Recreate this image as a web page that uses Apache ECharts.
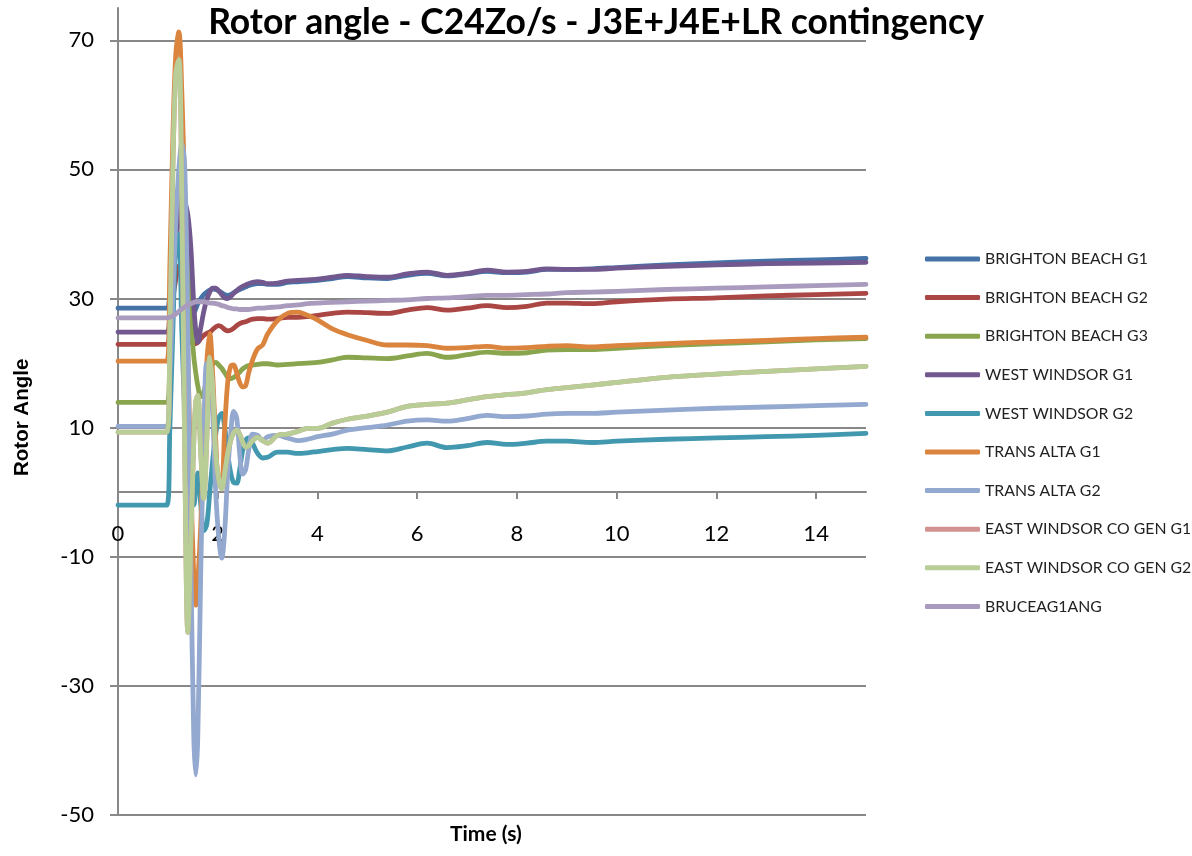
<!DOCTYPE html>
<html>
<head>
<meta charset="utf-8">
<title>Rotor angle</title>
<script src="https://cdn.jsdelivr.net/npm/echarts@6/dist/echarts.min.js"></script>
<style>
  html, body { margin: 0; padding: 0; background: #fff; }
  #chart { width: 1192px; height: 856px; }
</style>
</head>
<body>
<div id="chart"></div>
<script>
// time stamps (s), shared by every series
const time = [0, 0.98, 1.04, 1.1, 1.16, 1.22, 1.28, 1.34, 1.4, 1.46,
  1.52, 1.56, 1.6, 1.66, 1.72, 1.78, 1.84, 1.9, 1.96, 2.02,
  2.08, 2.14, 2.2, 2.26, 2.32, 2.38, 2.44, 2.5, 2.56, 2.62,
  2.7, 2.8, 2.9, 3.0, 3.2, 3.4, 3.6, 3.8, 4.0, 4.3,
  4.6, 5.0, 5.4, 5.8, 6.2, 6.6, 7.0, 7.4, 7.8, 8.2,
  8.6, 9.0, 9.5, 10, 11, 12, 13, 14, 15];

const brightonG1 = [28.5, 28.5, 31, 34, 37, 38, 36, 32, 28.5, 27.5,
  27.8, 28.4, 29.2, 30.0, 30.6, 31.0, 31.3, 31.5, 31.4, 31.2,
  30.9, 30.6, 30.5, 30.6, 30.9, 31.2, 31.4, 31.6, 31.8, 32.0,
  32.2, 32.3, 32.3, 32.2, 32.2, 32.5, 32.6, 32.7, 32.8, 33.1,
  33.4, 33.2, 33.1, 33.6, 33.9, 33.5, 33.8, 34.2, 34.0, 34.1,
  34.5, 34.5, 34.6, 34.8, 35.2, 35.5, 35.8, 36.0, 36.2];

const brightonG2 = [22.9, 22.9, 26, 30, 33, 35, 34, 30, 26, 23.5,
  23.0, 23.0, 23.2, 23.8, 24.3, 24.6, 24.8, 25.2, 25.6, 25.8,
  25.6, 25.2, 25.0, 25.1, 25.4, 25.8, 26.1, 26.3, 26.4, 26.6,
  26.8, 26.9, 26.9, 26.8, 26.9, 27.1, 27.1, 27.2, 27.4, 27.7,
  27.9, 27.8, 27.7, 28.2, 28.6, 28.2, 28.5, 28.9, 28.6, 28.8,
  29.3, 29.3, 29.2, 29.5, 29.9, 30.1, 30.4, 30.6, 30.8];

const brightonG3 = [13.9, 13.9, 20, 30, 40, 45, 45, 42, 35, 27,
  21, 18.5, 16.5, 14.8, 15.5, 17.5, 19.2, 19.9, 20.1, 19.7,
  19.2, 18.5, 17.8, 17.6, 17.8, 18.1, 18.6, 19.1, 19.4, 19.6,
  19.7, 19.8, 19.9, 19.9, 19.7, 19.8, 19.9, 20.0, 20.1, 20.5,
  20.9, 20.8, 20.7, 21.1, 21.5, 20.9, 21.3, 21.7, 21.5, 21.6,
  22.0, 22.1, 22.1, 22.3, 22.7, 23.0, 23.3, 23.6, 23.8];

const westWindsorG1 = [24.8, 24.8, 28, 33, 38, 43, 46, 45, 43, 38,
  29, 25, 23.2, 25.5, 28, 29.8, 31, 31.6, 31.6, 31.2,
  30.6, 30.1, 30.0, 30.3, 30.8, 31.2, 31.6, 31.9, 32.1, 32.3,
  32.5, 32.6, 32.5, 32.3, 32.4, 32.7, 32.8, 32.9, 33.0, 33.3,
  33.6, 33.4, 33.3, 33.8, 34.1, 33.6, 33.9, 34.4, 34.1, 34.2,
  34.6, 34.5, 34.5, 34.7, 35.0, 35.2, 35.4, 35.5, 35.6];

const westWindsorG2 = [-2.0, -2.0, 10, 25, 38, 40, 25, 12, 4, 0,
  -2, 1, 3, -2, -6, -5, 0, 5, 9, 11.5,
  12.2, 10, 6, 3, 1.5, 1.4, 3.5, 6.5, 8.0, 8.4,
  7.5, 6, 5.3, 5.4, 6.2, 6.2, 6.0, 6.1, 6.3, 6.6,
  6.8, 6.6, 6.4, 7.0, 7.6, 6.9, 7.2, 7.7, 7.4, 7.6,
  7.9, 7.9, 7.7, 7.9, 8.2, 8.4, 8.6, 8.8, 9.1];

const transAltaG1 = [20.3, 20.3, 35, 55, 68, 71.3, 62, 45, 22, 2,
  -13, -17.5, -14, -5, 8, 20, 24.6, 18, 8, 2,
  2, 10, 17, 19.5, 19.7, 18.5, 17, 16.3, 16.5, 18.5,
  20.5, 22.2, 22.8, 24.5, 26.6, 27.7, 27.9, 27.4, 26.7, 25.3,
  24.4, 23.5, 22.8, 22.8, 22.7, 22.3, 22.4, 22.6, 22.3, 22.4,
  22.6, 22.7, 22.5, 22.7, 23.0, 23.3, 23.5, 23.8, 24.0];

const transAltaG2 = [10.2, 10.2, 18, 30, 42, 50, 54, 50, 25, -10,
  -38, -43.8, -38, -12, 8, 20, 19, 12, 0, -7,
  -10.2, -6, 3, 9, 12.5, 11.5, 6, 2.8, 3.5, 6.5,
  9.0, 8.8, 8.0, 8.6, 8.8, 8.4, 8.0, 8.2, 8.6, 9.0,
  9.6, 10.0, 10.4, 11.0, 11.2, 11.0, 11.4, 11.9, 11.7, 11.8,
  12.1, 12.2, 12.2, 12.4, 12.7, 13.0, 13.2, 13.4, 13.6];

const eastWindsorG2 = [9.3, 9.3, 25, 50, 65, 67, 45, 5, -21.7, -8,
  8, 14, 15, 6, -1, 8, 20.9, 16, 6, 2,
  0.5, 3, 6, 8, 9.2, 9.6, 9, 7.8, 7.0, 7.2,
  8.0, 8.5, 8.0, 7.6, 8.8, 9.0, 9.4, 9.9, 9.9, 10.7,
  11.3, 11.8, 12.4, 13.3, 13.6, 13.8, 14.3, 14.8, 15.1, 15.4,
  15.9, 16.2, 16.6, 17.0, 17.8, 18.3, 18.7, 19.1, 19.5];

// G1 sits right under G2 in the picture, nothing of it shows
const eastWindsorG1 = eastWindsorG2.slice();

const bruce = [27.0, 27.0, 27.1, 27.3, 27.6, 28.0, 28.4, 28.7, 29.0, 29.2,
  29.4, 29.5, 29.5, 29.5, 29.5, 29.4, 29.3, 29.3, 29.2, 29.1,
  28.9, 28.8, 28.6, 28.5, 28.4, 28.4, 28.3, 28.3, 28.3, 28.3,
  28.4, 28.5, 28.5, 28.6, 28.7, 28.9, 29.0, 29.2, 29.3, 29.4,
  29.5, 29.6, 29.7, 29.8, 30.0, 30.1, 30.3, 30.5, 30.5, 30.6,
  30.7, 30.9, 31.0, 31.1, 31.4, 31.6, 31.8, 32.0, 32.2];

const names = ['BRIGHTON BEACH G1', 'BRIGHTON BEACH G2', 'BRIGHTON BEACH G3',
  'WEST WINDSOR G1', 'WEST WINDSOR G2', 'TRANS ALTA G1', 'TRANS ALTA G2',
  'EAST WINDSOR CO GEN G1', 'EAST WINDSOR CO GEN G2', 'BRUCEAG1ANG'];
const values = [brightonG1, brightonG2, brightonG3, westWindsorG1, westWindsorG2,
  transAltaG1, transAltaG2, eastWindsorG1, eastWindsorG2, bruce];
const colors = ['#4572A7', '#AA4643', '#89A54E', '#71588F', '#4198AF',
  '#DB843D', '#93A9CF', '#D19392', '#B9CD96', '#A99BBD'];

const xTicks = [0, 2, 4, 6, 8, 10, 12, 14];
const yTicks = [-50, -30, -10, 10, 30, 50, 70];

const chart = echarts.init(document.getElementById('chart'));

const series = names.map(function (n, i) {
  return {
    name: n,
    type: 'line',
    data: time.map(function (t, k) { return [t, values[i][k]]; }),
    showSymbol: false,
    symbol: 'none',
    smooth: 0.35,
    lineStyle: { width: 4.8, color: colors[i], cap: 'round', join: 'round' },
    itemStyle: { color: colors[i] }
  };
});

chart.setOption({
  animation: false,
  backgroundColor: '#fff',
  title: {
    text: 'Rotor angle - C24Zo/s - J3E+J4E+LR contingency',
    left: 'center',
    top: 0,
    textStyle: { fontFamily: 'Lato', fontWeight: 'bold', fontSize: 35.5, color: '#000' }
  },
  grid: { left: 118, right: 326, top: 8, bottom: 41, outerBoundsMode: 'none' },
  legend: {
    orient: 'vertical',
    left: 920,
    top: 244,
    itemWidth: 55,
    itemHeight: 5,
    itemGap: 18.6,
    icon: 'roundRect',
    textStyle: { fontFamily: 'Lato', fontSize: 15.8, color: '#222', lineHeight: 20 },
    data: names
  },
  xAxis: {
    type: 'value',
    min: 0,
    max: 15,
    position: 'bottom',
    // x axis sits at the y = 0 line, 323 px above the grid bottom
    offset: -323,
    axisLine: { onZero: false, lineStyle: { color: '#888', width: 2 } },
    axisTick: { show: true, length: 7, customValues: xTicks, lineStyle: { color: '#888', width: 2 } },
    axisLabel: { customValues: xTicks, margin: 31, fontFamily: 'Lato', fontSize: 22, color: '#000' },
    splitLine: { show: false }
  },
  yAxis: {
    type: 'value',
    min: -50,
    max: 75,
    axisLine: { show: true, lineStyle: { color: '#888', width: 2 } },
    axisTick: { show: true, length: 8, customValues: yTicks, lineStyle: { color: '#888', width: 2 } },
    axisLabel: { customValues: yTicks, margin: 24, fontFamily: 'Lato', fontSize: 22, color: '#000' },
    splitLine: { show: true, lineStyle: { color: '#888', width: 2 } }
  },
  graphic: [
    {
      type: 'text',
      left: 450,
      top: 824,
      style: { text: 'Time (s)', font: 'bold 21px Lato', fill: '#000' }
    },
    {
      type: 'text',
      x: 12,
      y: 476,
      rotation: Math.PI / 2,
      style: { text: 'Rotor Angle', font: 'bold 20.5px "Liberation Sans"', fill: '#000' }
    }
  ],
  series: series
});
</script>
</body>
</html>
